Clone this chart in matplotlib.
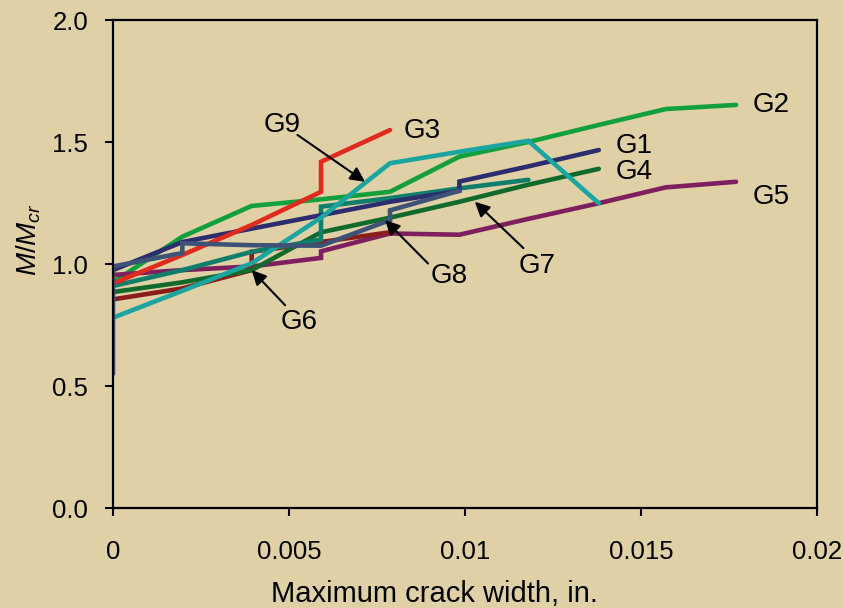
import matplotlib
matplotlib.use("Agg")
import matplotlib.pyplot as plt

plt.rcParams['font.family'] = ['Liberation Sans', 'DejaVu Sans']
plt.rcParams['mathtext.fontset'] = 'custom'
plt.rcParams['mathtext.it'] = 'Liberation Sans:italic'
plt.rcParams['mathtext.rm'] = 'Liberation Sans'

# crack widths (in.)
g1_x = [0, 0.00197, 0.00394, 0.00591, 0.00787, 0.00984, 0.00984, 0.0118, 0.0138]
g1_y = [0.975, 1.09, 1.145, 1.20, 1.255, 1.30, 1.338, 1.40, 1.467]

g2_x = [0, 0.00197, 0.00394, 0.00591, 0.00787, 0.00984, 0.0118, 0.0138, 0.0157, 0.0177]
g2_y = [0.925, 1.112, 1.238, 1.265, 1.296, 1.44, 1.50, 1.57, 1.635, 1.652]

g3_x = [0, 0.00197, 0.00394, 0.00591, 0.00591, 0.00787]
g3_y = [0.92, 1.037, 1.16, 1.296, 1.419, 1.549]

g4_x = [0, 0.00197, 0.00394, 0.00591, 0.00787, 0.00984, 0.0118, 0.0138]
g4_y = [0.885, 0.925, 0.975, 1.13, 1.19, 1.255, 1.325, 1.39]

g5_x = [0, 0.00197, 0.00394, 0.00591, 0.00591, 0.00787, 0.00984, 0.0118, 0.0138, 0.0157, 0.0177]
g5_y = [0.955, 0.975, 0.99, 1.025, 1.052, 1.125, 1.12, 1.185, 1.249, 1.314, 1.337]

g6_x = [0, 0.00197, 0.00394, 0.00394, 0.00591, 0.00787]
g6_y = [0.855, 0.90, 0.975, 1.05, 1.09, 1.13]

g7_x = [0, 0.00197, 0.00394, 0.00591, 0.00591, 0.00787, 0.00984, 0.0118]
g7_y = [0.91, 0.975, 1.05, 1.10, 1.235, 1.27, 1.31, 1.345]

g8_x = [0, 0, 0.00197, 0.00197, 0.00394, 0.00591, 0.00787, 0.00787, 0.00984]
g8_y = [0.55, 0.99, 1.045, 1.085, 1.077, 1.075, 1.18, 1.22, 1.30]

g9_x = [0, 0.00197, 0.00394, 0.00591, 0.00787, 0.00984, 0.0118, 0.0138]
g9_y = [0.78, 0.89, 1.003, 1.19, 1.413, 1.46, 1.505, 1.249]

x_ticks = [0, 0.005, 0.01, 0.015, 0.02]
x_ticklabels = ['0', '0.005', '0.01', '0.015', '0.02']
y_ticks = [0.0, 0.5, 1.0, 1.5, 2.0]
y_ticklabels = ['0.0', '0.5', '1.0', '1.5', '2.0']

bg = '#dfd0a6'
fig = plt.figure(figsize=(8.43, 6.08), dpi=100, facecolor=bg)
ax = fig.add_axes([113/843, 100/608, 704/843, 488/608])
ax.set_facecolor(bg)

lw = 3.3
series = [
    (g2_x, g2_y, '#12a03c'),
    (g5_x, g5_y, '#7e1f60'),
    (g6_x, g6_y, '#8a1c1c'),
    (g4_x, g4_y, '#0f6a2c'),
    (g7_x, g7_y, '#0f7f6c'),
    (g1_x, g1_y, '#2b2d6e'),
    (g3_x, g3_y, '#e02a1e'),
    (g9_x, g9_y, '#1aa5a0'),
    (g8_x, g8_y, '#3e5278'),
]
for xs, ys, c in series:
    ax.plot(xs, ys, color=c, lw=lw, solid_joinstyle='miter', solid_capstyle='round')

ax.set_xlim(0, 0.02)
ax.set_ylim(0, 2.0)
ax.set_xticks(x_ticks)
ax.set_xticklabels(x_ticklabels)
ax.set_yticks(y_ticks)
ax.set_yticklabels(y_ticklabels)
ax.tick_params(axis='both', direction='out', length=6, width=1.5, labelsize=18.5, colors='black')
ax.tick_params(axis='x', pad=17)
ax.tick_params(axis='y', pad=12)
for s in ax.spines.values():
    s.set_linewidth(1.6)

ax.set_xlabel('Maximum crack width, in.', fontsize=21)
ax.xaxis.set_label_coords(0.457, -0.148)
ax.set_ylabel(r'$M/M_{cr}$', fontsize=20)
ax.yaxis.set_label_coords(-0.100, 0.549)

fs = 20
labels = [
    ('G2', 0.01816, 1.65, 'left'),
    ('G1', 0.01428, 1.485, 'left'),
    ('G4', 0.01428, 1.378, 'left'),
    ('G5', 0.01816, 1.275, 'left'),
    ('G3', 0.00826, 1.545, 'left'),
]
for t, x, y, ha in labels:
    ax.text(x, y, t, fontsize=fs, ha=ha, va='center')

arrow_kw = dict(arrowstyle='-|>', mutation_scale=22, lw=1.5, color='black', shrinkA=0, shrinkB=0)
# (label, text position, arrow tail, arrow tip)
arrows = [
    ('G9', (0.00480, 1.570), (0.00524, 1.529), (0.00716, 1.337)),
    ('G6', (0.00528, 0.762), (0.00489, 0.831), (0.00394, 0.975)),
    ('G8', (0.00955, 0.952), (0.00895, 1.002), (0.00773, 1.180)),
    ('G7', (0.01205, 0.993), (0.01166, 1.065), (0.01028, 1.255)),
]
for t, tp, tail, tip in arrows:
    ax.text(tp[0], tp[1], t, fontsize=fs, ha='center', va='center')
    ax.annotate('', xy=tip, xytext=tail, arrowprops=arrow_kw)

fig.savefig('out.png', dpi=100, facecolor=bg)
